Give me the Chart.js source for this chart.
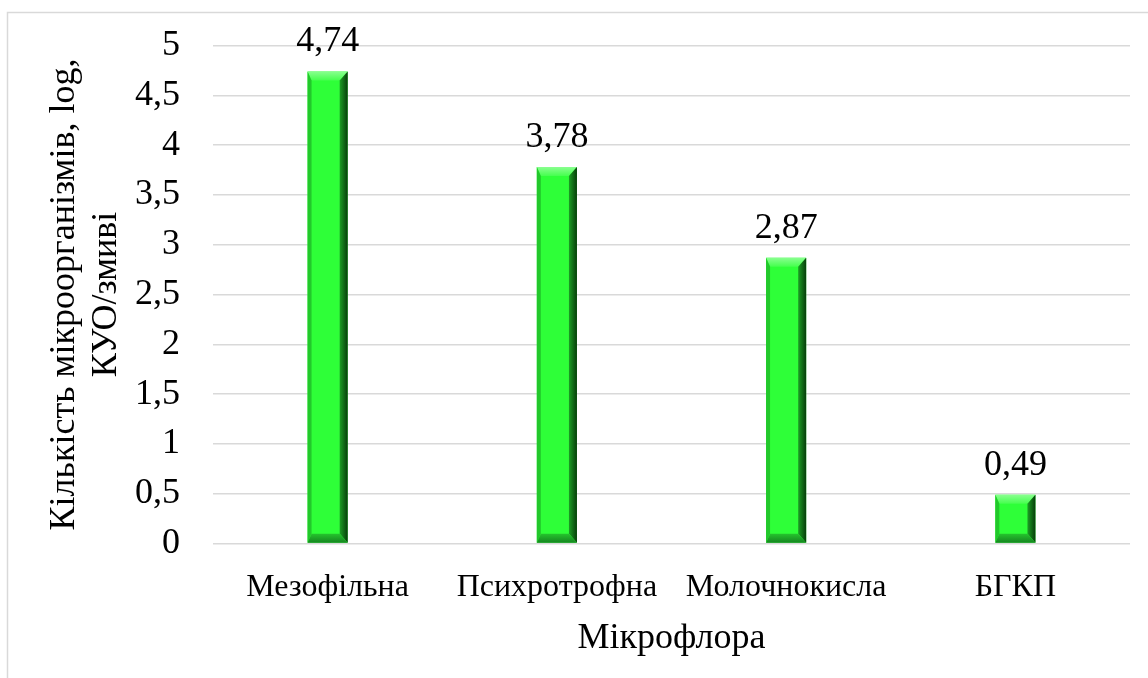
<!DOCTYPE html>
<html>
<head>
<meta charset="utf-8">
<script src="https://cdn.jsdelivr.net/npm/chart.js@4/dist/chart.umd.min.js"></script>
<style>
  html, body { margin: 0; padding: 0; background: #ffffff; }
  #wrap { width: 1148px; height: 678px; }
</style>
</head>
<body>
<div id="wrap"><canvas id="chart" width="1148" height="678"></canvas></div>
<script>
// Categories and values (log CFU per swab)
const categories = ['Мезофільна', 'Психротрофна', 'Молочнокисла', 'БГКП'];
const counts = [4.74, 3.78, 2.87, 0.49];
const yTickLabels = ['0', '0,5', '1', '1,5', '2', '2,5', '3', '3,5', '4', '4,5', '5'];
const yTitle = ['Кількість мікроорганізмів, log,', 'КУО/змиві'];
const xTitle = 'Мікрофлора';

const SERIF = "'Liberation Serif', 'Times New Roman', serif";

// Light-grey frame around the whole chart
const framePlugin = {
  id: 'frame',
  beforeDraw(chart) {
    const ctx = chart.ctx;
    ctx.save();
    ctx.fillStyle = '#ffffff';
    ctx.fillRect(0, 0, chart.width, chart.height);
    ctx.strokeStyle = '#d9d9d9';
    ctx.lineWidth = 1.5;
    ctx.strokeRect(7.5, 12.5, 1400, 1000);
    ctx.restore();
  }
};

// Bevelled look for each bar plus its value label
const bevelPlugin = {
  id: 'bevel',
  afterDatasetsDraw(chart) {
    const ctx = chart.ctx;
    const meta = chart.getDatasetMeta(0);
    meta.data.forEach((bar, i) => {
      const { x, y, base, width } = bar.getProps(['x', 'y', 'base', 'width'], true);
      const L = x - width / 2, R = x + width / 2, T = y, B = base;
      const d = Math.min(9, (B - T) / 2), dl = 4, dr = 8;
      ctx.save();
      // top facet
      let g = ctx.createLinearGradient(0, T, 0, T + d);
      g.addColorStop(0, '#8aff90');
      g.addColorStop(1, '#45ff4e');
      ctx.fillStyle = g;
      ctx.beginPath();
      ctx.moveTo(L, T); ctx.lineTo(R, T); ctx.lineTo(R - dr, T + d); ctx.lineTo(L + dl, T + d); ctx.closePath();
      ctx.fill();
      // left facet
      ctx.fillStyle = '#22c82b';
      ctx.beginPath();
      ctx.moveTo(L, T); ctx.lineTo(L + dl, T + d); ctx.lineTo(L + dl, B - d); ctx.lineTo(L, B); ctx.closePath();
      ctx.fill();
      // right facet
      g = ctx.createLinearGradient(R - dr, 0, R, 0);
      g.addColorStop(0, '#1c9e24');
      g.addColorStop(1, '#073d0a');
      ctx.fillStyle = g;
      ctx.beginPath();
      ctx.moveTo(R, T); ctx.lineTo(R, B); ctx.lineTo(R - dr, B - d); ctx.lineTo(R - dr, T + d); ctx.closePath();
      ctx.fill();
      // bottom facet
      g = ctx.createLinearGradient(0, B - d, 0, B);
      g.addColorStop(0, '#25c42d');
      g.addColorStop(1, '#168520');
      ctx.fillStyle = g;
      ctx.beginPath();
      ctx.moveTo(L, B); ctx.lineTo(R, B); ctx.lineTo(R - dr, B - d); ctx.lineTo(L + dl, B - d); ctx.closePath();
      ctx.fill();
      // value label
      ctx.fillStyle = '#000000';
      ctx.font = '36px ' + SERIF;
      ctx.textAlign = 'center';
      ctx.textBaseline = 'alphabetic';
      ctx.fillText(String(counts[i]).replace('.', ','), x, T - 20);
      ctx.restore();
    });
  }
};

new Chart(document.getElementById('chart'), {
  type: 'bar',
  data: {
    labels: categories,
    datasets: [{
      data: counts,
      backgroundColor: '#2eff38',
      borderWidth: 0,
      categoryPercentage: 1,
      barPercentage: 0.175
    }]
  },
  options: {
    responsive: false,
    animation: false,
    devicePixelRatio: 1,
    layout: { padding: { top: 45.5, right: 18, bottom: 0, left: 0 } },
    plugins: { legend: { display: false }, tooltip: { enabled: false } },
    scales: {
      x: {
        grid: { display: false, drawTicks: false },
        border: { display: false },
        ticks: {
          color: '#000000',
          padding: 25,
          font: { family: SERIF, size: 32 }
        },
        title: {
          display: true,
          text: xTitle,
          color: '#000000',
          font: { family: SERIF, size: 36, lineHeight: 1.2 },
          padding: { top: 0, bottom: 18 }
        },
        afterFit(scale) { scale.height = 134.5; }
      },
      y: {
        min: 0,
        max: 5,
        grid: { color: '#d9d9d9', lineWidth: 1.5, drawTicks: false },
        border: { display: false },
        ticks: {
          stepSize: 0.5,
          color: '#000000',
          padding: 33,
          font: { family: SERIF, size: 36 },
          callback: (v, i) => yTickLabels[i]
        },
        title: {
          display: true,
          text: yTitle,
          color: '#000000',
          font: { family: SERIF, size: 36, lineHeight: 1.17 },
          padding: { top: 43, bottom: 0 }
        },
        afterFit(scale) {
          scale.width = 213;
          scale.paddingTop = 0;
          scale.paddingBottom = 0;
        }
      }
    }
  },
  plugins: [framePlugin, bevelPlugin]
});
</script>
</body>
</html>
